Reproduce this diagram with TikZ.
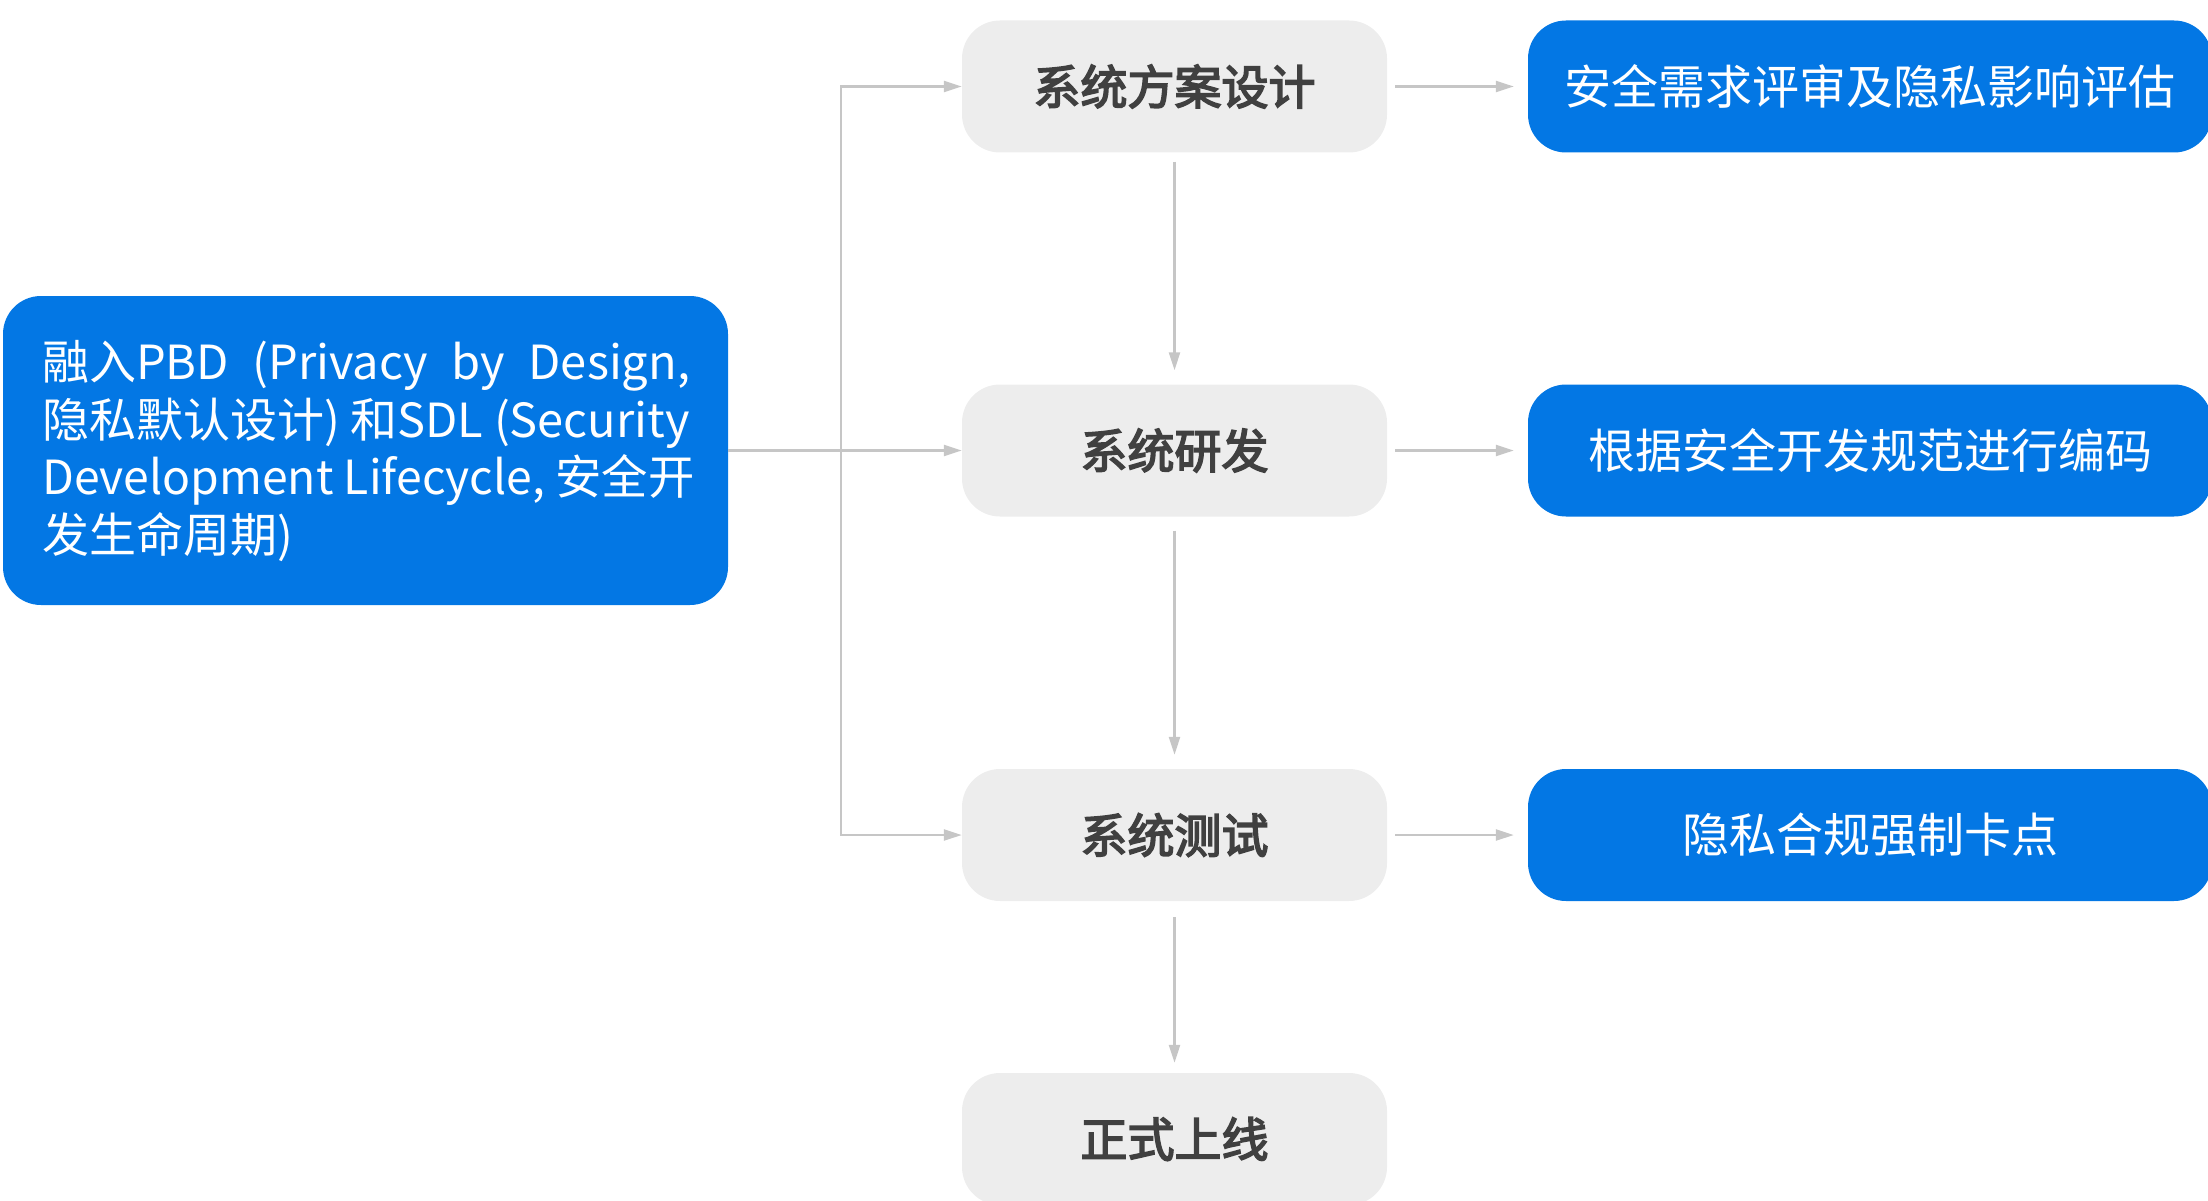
\documentclass[tikz,border=0pt]{standalone}
\usepackage{fontspec}
\usepackage{graphicx}
\setmainfont{Noto Sans CJK SC}
\newfontfamily\cjkmed{Noto Sans CJK SC}[FakeBold=3.5]
\usetikzlibrary{arrows.meta}
\definecolor{bblue}{HTML}{0377E4}
\definecolor{gbox}{HTML}{EDEDED}
\definecolor{gtext}{HTML}{404040}
\definecolor{conncol}{HTML}{C6C6C6}
\begin{document}
\begin{tikzpicture}[x=1pt,y=-1pt,
  graybox/.style={fill=gbox, rounded corners=38pt, minimum width=425pt, minimum height=132pt, text=gtext, font=\fontsize{47}{56}\selectfont\cjkmed, inner sep=0pt},
  bluebox/.style={fill=bblue, rounded corners=38pt, text=white, font=\fontsize{47}{58}\selectfont, inner sep=0pt},
  arr/.style={draw=conncol, line width=2.5pt, -{Triangle[length=18pt,width=11pt]}},
]
\useasboundingbox (0,0) rectangle (2208,1201);
\clip (0,0) rectangle (2208,1201);
% left box
\node[bluebox, minimum width=725pt, minimum height=309pt] (L) at (365.5,450.5) {};
\node[text=white, font=\fontsize{47}{57.8}\selectfont, align=left, anchor=west, inner sep=0pt] (Lt) at (42,451)
  {\makebox[648pt][s]{融入PBD (Privacy by Design,}\\
   隐私默认设计) 和SDL (Security\\
   \scalebox{0.985}[1]{Development Lifecycle, 安全开}\\
   发生命周期)};
% gray boxes
\node[graybox] (g1) at (1174.5,86.5) {系统方案设计};
\node[graybox] (g2) at (1174.5,450.5) {系统研发};
\node[graybox] (g3) at (1174.5,835) {系统测试};
\node[graybox] (g4) at (1174.5,1139) {正式上线};
% right blue boxes
\node[bluebox, minimum width=684pt, minimum height=132pt] (b1) at (1870,86.5) {安全需求评审及隐私影响评估};
\node[bluebox, minimum width=684pt, minimum height=132pt] (b2) at (1870,450.5) {根据安全开发规范进行编码};
\node[bluebox, minimum width=684pt, minimum height=132pt] (b3) at (1870,835) {隐私合规强制卡点};
% trunk
\coordinate (tk) at (841,450.5);
\draw[arr] (L.east) -- (g2.west);
\draw[arr] (tk) |- (g1.west);
\draw[arr] (tk) |- (g3.west);
% vertical arrows
\draw[arr, shorten <=9pt, shorten >=14pt] (g1.south) -- (g2.north);
\draw[arr, shorten <=14pt, shorten >=14pt] (g2.south) -- (g3.north);
\draw[arr, shorten <=16pt, shorten >=10pt] (g3.south) -- (g4.north);
% right arrows
\draw[arr, shorten <=8pt, shorten >=14pt] (g1.east) -- (b1.west);
\draw[arr, shorten <=8pt, shorten >=14pt] (g2.east) -- (b2.west);
\draw[arr, shorten <=8pt, shorten >=14pt] (g3.east) -- (b3.west);
\end{tikzpicture}
\end{document}
